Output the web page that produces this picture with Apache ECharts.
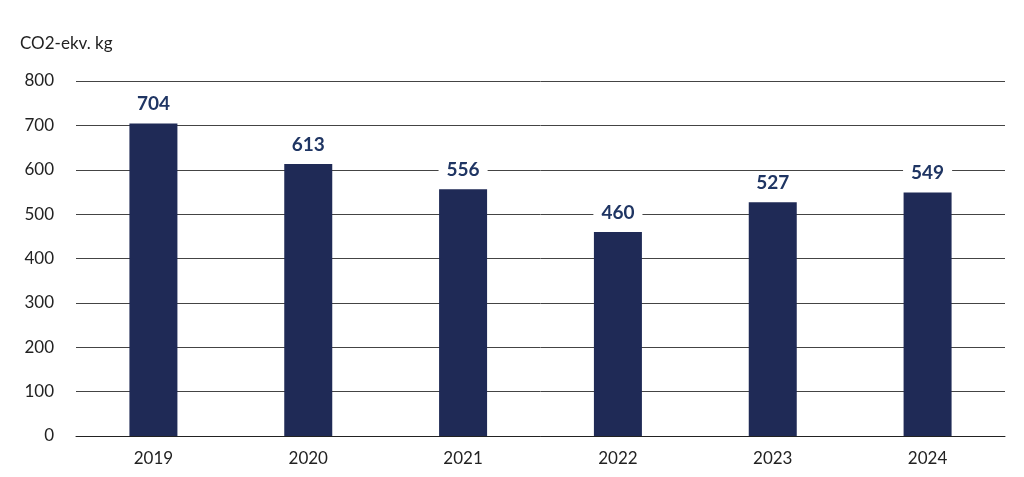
<!DOCTYPE html>
<html><head><meta charset="utf-8">
<script src="https://cdn.jsdelivr.net/npm/echarts@6/dist/echarts.min.js"></script>
<style>html,body{margin:0;background:#fff}#c{width:1024px;height:477px}</style>
</head><body><div id="c"></div>
<script>
var years = ['2019', '2020', '2021', '2022', '2023', '2024'];
var values = [704, 613, 556, 460, 527, 549];
var yTicks = [0, 100, 200, 300, 400, 500, 600, 700, 800];

var chart = echarts.init(document.getElementById('c'));
chart.setOption({
  animation: false,
  textStyle: { fontFamily: 'Lato' },
  title: { text: 'CO2-ekv. kg', left: 15, top: 30, textStyle: { fontSize: 17, fontWeight: 'normal', color: '#222' } },
  grid: { left: 76, right: 19, top: 81, bottom: 41 },
  xAxis: {
    type: 'category', data: years,
    axisLine: { lineStyle: { color: '#222' } },
    axisTick: { show: false },
    axisLabel: { fontSize: 17, color: '#222', margin: 14 }
  },
  yAxis: {
    type: 'value', min: yTicks[0], max: yTicks[yTicks.length - 1], interval: 100,
    axisLabel: { fontSize: 17, color: '#222', margin: 22 },
    splitLine: { lineStyle: { color: '#444', width: 1 } }
  },
  series: [{
    type: 'bar', data: values, barWidth: 48,
    itemStyle: { color: '#1f2a56' },
    label: {
      show: true, position: 'top', distance: 8, fontSize: 19, fontWeight: 'bold',
      color: '#1f3563', backgroundColor: '#fff', padding: [2, 8]
    }
  }]
});
</script></body></html>
